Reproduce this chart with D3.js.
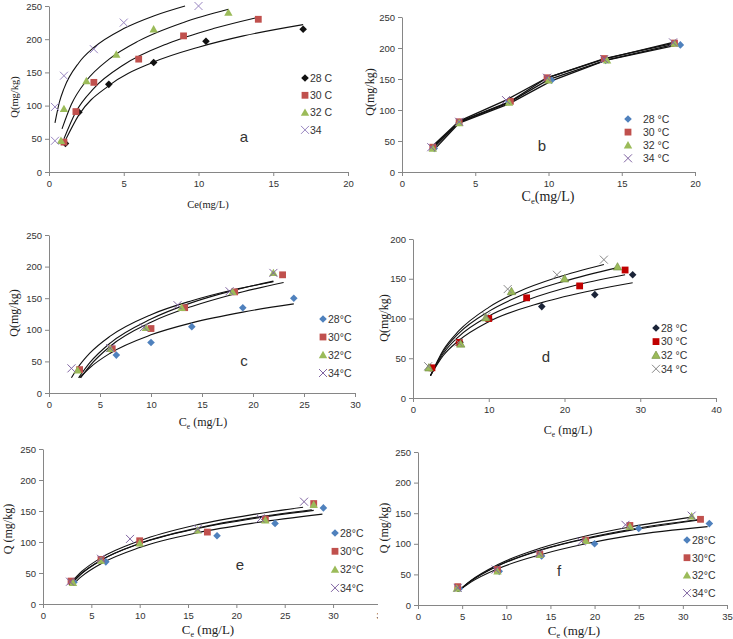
<!DOCTYPE html>
<html><head><meta charset="utf-8">
<script src="https://cdn.jsdelivr.net/npm/d3@7"></script>
<style>body{margin:0;background:#fff}</style></head>
<body>
<svg id="chart" width="733" height="639"></svg>
<script>
// ---------------- DATA ----------------
const tempKeys = ["28", "30", "32", "34"];

// Panel a
const legendA = ["28 C", "30 C", "32 C", "34"];
const ptsA28 = [[1.1,43],[2,90],[4,132],[7,165],[10.5,197],[17,215]];
const ptsA30 = [[1,45],[1.8,91],[3,135],[6,170],[9,205],[14,230]];
const ptsA32 = [[0.8,47],[1,95],[2.5,137],[4.5,177],[7,215],[12,240]];
const ptsA34 = [[0.4,47],[0.4,98],[1,145],[3,185],[5,225],[10,250]];
const fitA28 = [[1.1,48],[2,86],[4,130],[7,165.6],[10,188],[13,205],[17,222]];
const fitA30 = [[1,50],[1.8,90.7],[3,126],[5,161.5],[8,194],[11,216],[13.8,232]];
const fitA32 = [[0.87,65],[1.5,102],[2.5,137.5],[4,169.7],[6,197.5],[9,225.3],[12,245]];
const fitA34 = [[0.4,74],[0.7,105.5],[1,125.6],[2,164.6],[3,187.5],[5,216],[7,235],[9.1,250]];

// Panel b
const legendB = ["28 °C", "30 °C", "32 °C", "34 °C"];
const ptsB28 = [[2.2,38],[3.9,80],[7.3,113],[10.2,148],[13.9,180],[19,205]];
const ptsB30 = [[2.1,40],[3.9,81],[7.4,114],[9.9,152],[13.8,183],[18.6,208]];
const ptsB32 = [[2.1,38],[3.9,79],[7.3,112],[10,148],[14,180],[18.6,207]];
const ptsB34 = [[2,40],[3.9,81],[7.1,116],[9.9,152],[13.8,182],[18.5,209]];
const fitB28 = [[2.2,36],[3.9,79],[7.3,110],[10.2,147],[13.9,180],[18.6,204]];
const fitB30 = [[2.1,40],[3.9,81],[7.4,114],[9.9,152],[13.8,183],[18.6,208]];
const fitB32 = [[2.1,38],[3.9,80],[7.3,112],[10,149],[14,181],[18.6,206]];
const fitB34 = [[2,40],[3.9,82],[7.1,116],[9.9,152],[13.8,182],[18.5,209]];

// Panel c
const legendC = ["28°C", "30°C", "32°C", "34°C"];
const ptsC28 = [[6.6,60],[10,80],[14,105],[19,135],[24,150]];
const ptsC30 = [[3,37],[6.2,70],[10,102],[13.3,135],[18.2,160],[22.9,187]];
const ptsC32 = [[2.8,36],[6,70],[9.5,103],[13,135],[18,160],[22,190]];
const ptsC34 = [[2.2,39],[6,71],[9.3,104],[12.6,139],[17.7,161],[22,190]];
const fitC28 = [[3,24],[4,40],[6,63],[10,92],[14,111],[19,128],[24,141]];
const fitC30 = [[3.1,24],[4,43],[6,74],[10,112],[14,137],[18,156],[23,175]];
const fitC32 = [[2.9,24],[4,48],[6,79],[10,117],[14,143],[18,162],[22,177]];
const fitC34 = [[2.2,24],[3,44],[4,63],[6,90],[10,124],[14,146],[18,163],[22,176]];

// Panel d
const legendD = ["28 °C", "30 °C", "32 °C", "34 °C"];
const ptsD28 = [[2.3,38],[6.2,70],[10,100],[17,115],[24,130],[29,155]];
const ptsD30 = [[2.5,38],[6.1,70],[10,100],[15,126],[22,141],[28,161]];
const ptsD32 = [[2.1,38],[6.3,68],[9.6,101],[13,134],[20,150],[27,165]];
const ptsD34 = [[2,40],[6,70],[9.7,103],[12.5,137],[19,155],[25.2,174]];
const fitD28 = [[2.3,28],[4,53.5],[6,72],[10,96],[17,120],[24,136],[29,145]];
const fitD30 = [[2.3,28],[4,56],[6,77],[10,103],[15,123],[22,143],[28,155]];
const fitD32 = [[2.3,28],[4,58.5],[6,81],[10,109],[14,128],[20,147],[27,164]];
const fitD34 = [[2.3,28],[4,60.4],[6,84],[10,114],[14,134],[19,151.5],[25.2,168]];

// Panel e
const legendE = ["28°C", "30°C", "32°C", "34°C"];
const ptsE28 = [[3.2,35],[6.5,68],[10,99],[18,110],[24,130],[29,155]];
const ptsE30 = [[2.9,37],[6,72],[10,102],[17,116],[23,137],[28,162]];
const ptsE32 = [[3.1,34],[6,70],[10,98],[16,119],[23,135],[28,160]];
const ptsE34 = [[2.8,36],[6,73],[9,105],[16,121],[22.5,138],[27,165]];
const fitE28 = [[3,30],[4,44.6],[6,65],[10,91],[16,115],[22,131],[28.9,145]];
const fitE30 = [[2.8,31],[4,49.6],[6,70.7],[10,97.3],[16,121.8],[22,138.4],[28,151]];
const fitE32 = [[2.8,30],[4,49],[6,70.5],[10,97.7],[16,122.7],[22,139.7],[27.8,152]];
const fitE34 = [[2.7,31],[4,52.4],[6,74.5],[10,102],[16,128],[22,145],[26.9,156]];

// Panel f
const legendF = ["28°C", "30°C", "32°C", "34°C"];
const ptsF28 = [[4.7,27],[9.2,55],[14,80],[20,100],[25,125],[33,133]];
const ptsF30 = [[4.5,30],[9,58],[13.8,83],[19,106],[24,130],[32,140]];
const ptsF32 = [[4.4,27],[9,55],[13.8,82],[19,105],[24,128],[31,145]];
const ptsF34 = [[4.5,28],[8.8,58],[13.7,84],[18.5,104],[23.5,131],[31,146]];
const fitF28 = [[4.5,22],[6,37.4],[9,59],[14,82.6],[19,100],[24,113.3],[32.8,128]];
const fitF30 = [[4.5,22],[6,39.4],[9,63.9],[14,90.7],[19,109],[24,123.3],[32,140]];
const fitF32 = [[4.5,22],[6,39.2],[9,63.4],[14,89.9],[19,108],[24,122],[31.9,139]];
const fitF34 = [[4.5,22],[6,40.1],[9,65.7],[14,93.5],[19,112.8],[24,127.5],[31,143.6]];

const yTicks250 = [0, 50, 100, 150, 200, 250];
const yTicks200 = [0, 50, 100, 150, 200];
const xTicks20 = [0, 5, 10, 15, 20];
const xTicks30 = [0, 5, 10, 15, 20, 25, 30];
const xTicks35 = [0, 5, 10, 15, 20, 25, 30, 35];
const xTicks40 = [0, 10, 20, 30, 40];

// ---------------- STYLES ----------------
const excelColors = {"28": "#4F81BD", "30": "#C0504D", "32": "#9BBB59", "34": "#8064A2"};
const colorsA = {"28": "#111111", "30": "#C0504D", "32": "#9BBB59", "34": "#9A87C2"};
const colorsD = {"28": "#1B2438", "30": "#C00000", "32": "#9BBB59", "34": "#888888"};
const shapes = {"28": "diamond", "30": "square", "32": "triangle", "34": "cross"};

const svg = d3.select("#chart");
const defs = svg.append("defs");
defs.append("clipPath").attr("id", "clipE").append("rect")
  .attr("x", 0).attr("y", 420).attr("width", 378).attr("height", 219);

function drawMarker(g, shape, color, cx, cy, d3stroke) {
  if (shape === "diamond") {
    g.append("path").attr("d", `M${cx},${cy-3.8}L${cx+3.8},${cy}L${cx},${cy+3.8}L${cx-3.8},${cy}Z`)
      .attr("fill", color);
  } else if (shape === "square") {
    g.append("rect").attr("x", cx-3.4).attr("y", cy-3.4).attr("width", 6.8).attr("height", 6.8)
      .attr("fill", color);
  } else if (shape === "triangle") {
    g.append("path").attr("d", `M${cx},${cy-4.2}L${cx+4.2},${cy+3.2}L${cx-4.2},${cy+3.2}Z`)
      .attr("fill", color).attr("stroke", d3stroke || "none").attr("stroke-width", 0.6);
  } else {
    g.append("path").attr("d", `M${cx-4},${cy-4}L${cx+4},${cy+4}M${cx-4},${cy+4}L${cx+4},${cy-4}`)
      .attr("stroke", color).attr("stroke-width", 1).attr("fill", "none");
  }
}

function titleWithSub(g, x, y, size, main, sub, rest, rotate) {
  const t = g.append("text").attr("x", x).attr("y", y)
    .attr("text-anchor", "middle")
    .attr("font-family", "Liberation Serif, Times New Roman, serif")
    .attr("font-size", size).attr("fill", "#222");
  if (rotate) t.attr("transform", `rotate(-90,${x},${y})`);
  t.append("tspan").text(main);
  if (sub) t.append("tspan").attr("font-size", size * 0.62).attr("dy", size * 0.22).text(sub);
  t.append("tspan").attr("dy", sub ? -size * 0.22 : 0).text(rest);
}

function drawPanel(cfg) {
  const g = svg.append("g");
  if (cfg.clip) g.attr("clip-path", `url(#${cfg.clip})`);
  const x = d3.scaleLinear().domain(cfg.xd).range([cfg.x0, cfg.x1]);
  const y = d3.scaleLinear().domain(cfg.yd).range([cfg.y0, cfg.y1]);

  const xa = g.append("g").attr("transform", `translate(0,${cfg.y0})`)
    .call(d3.axisBottom(x).tickValues(cfg.xt).tickSize(4).tickSizeOuter(0).tickPadding(4));
  const ya = g.append("g").attr("transform", `translate(${cfg.x0},0)`)
    .call(d3.axisLeft(y).tickValues(cfg.yt).tickSize(4).tickSizeOuter(0).tickPadding(3));
  [xa, ya].forEach(a => {
    a.select(".domain").attr("stroke", "#868686");
    a.selectAll(".tick line").attr("stroke", "#868686");
    a.selectAll(".tick text").attr("fill", "#333").attr("font-size", 9.5)
      .attr("font-family", "Liberation Sans, Arial, sans-serif");
  });

  // fitted curves / lines
  const line = d3.line().x(d => x(d[0])).y(d => y(d[1]))
    .curve(cfg.linear ? d3.curveLinear : d3.curveMonotoneX);
  cfg.fits.forEach(f => {
    g.append("path").attr("d", line(f)).attr("fill", "none")
      .attr("stroke", "#111").attr("stroke-width", cfg.linear ? 1.3 : 1.1);
  });

  // points
  cfg.pts.forEach((p, i) => {
    const k = tempKeys[i];
    p.forEach(d => drawMarker(g, shapes[k], cfg.colors[k], x(d[0]), y(d[1]), cfg.triStroke));
  });

  // legend
  cfg.legend.forEach((lab, i) => {
    const k = tempKeys[i];
    const ly = cfg.ly + i * cfg.lstep;
    drawMarker(g, shapes[k], cfg.colors[k], cfg.lx, ly, cfg.triStroke);
    g.append("text").attr("x", cfg.lx + cfg.lgap).attr("y", ly + 3.8)
      .attr("font-family", "Liberation Sans, Arial, sans-serif").attr("font-size", 10.5)
      .attr("fill", "#333").text(lab);
  });

  // panel letter
  g.append("text").attr("x", cfg.letter[0]).attr("y", cfg.letter[1])
    .attr("text-anchor", "middle").attr("font-family", "Liberation Sans, Arial, sans-serif")
    .attr("font-size", 15).attr("fill", "#333").text(cfg.letter[2]);

  // axis titles
  titleWithSub(g, cfg.xt_pos[0], cfg.xt_pos[1], cfg.xt_pos[2], "C", cfg.xsub, cfg.xrest, false);
  titleWithSub(g, cfg.yt_pos[0], cfg.yt_pos[1], cfg.yt_pos[2], cfg.ytitle, null, "", true);
}

drawPanel({x0: 49, x1: 348, y0: 172, y1: 6, xd: [0, 20], yd: [0, 250], xt: xTicks20, yt: yTicks250,
  pts: [ptsA28, ptsA30, ptsA32, ptsA34], fits: [fitA28, fitA30, fitA32, fitA34], colors: colorsA,
  legend: legendA, lx: 305, ly: 78, lstep: 17.3, lgap: 5,
  letter: [244, 142, "a"], xsub: "", xrest: "e(mg/L)", xt_pos: [208, 208, 10.5],
  ytitle: "Q(mg/kg)", yt_pos: [18, 97, 10.5]});

drawPanel({x0: 402, x1: 695, y0: 172, y1: 17, xd: [0, 20], yd: [0, 250], xt: xTicks20, yt: yTicks250,
  pts: [ptsB28, ptsB30, ptsB32, ptsB34], fits: [fitB28, fitB30, fitB32, fitB34], colors: excelColors,
  linear: true, legend: legendB, lx: 628, ly: 119, lstep: 13.1, lgap: 15,
  letter: [542, 151, "b"], xsub: "e", xrest: "(mg/L)", xt_pos: [548, 201, 14],
  ytitle: "Q(mg/kg)", yt_pos: [374, 92, 12]});

drawPanel({x0: 49, x1: 355, y0: 393, y1: 235, xd: [0, 30], yd: [0, 250], xt: xTicks30, yt: yTicks250,
  pts: [ptsC28, ptsC30, ptsC32, ptsC34], fits: [fitC28, fitC30, fitC32, fitC34], colors: excelColors,
  legend: legendC, lx: 323, ly: 319, lstep: 18, lgap: 5,
  letter: [244, 366, "c"], xsub: "e", xrest: " (mg/L)", xt_pos: [203, 426, 12],
  ytitle: "Q(mg/kg)", yt_pos: [18, 313, 12]});

drawPanel({x0: 413, x1: 716, y0: 398, y1: 239, xd: [0, 40], yd: [0, 200], xt: xTicks40, yt: yTicks200,
  pts: [ptsD28, ptsD30, ptsD32, ptsD34], fits: [fitD28, fitD30, fitD32, fitD34], colors: colorsD,
  triStroke: "#6d8a3a", legend: legendD, lx: 656, ly: 328, lstep: 13.6, lgap: 5,
  letter: [546, 362, "d"], xsub: "e", xrest: " (mg/L)", xt_pos: [568, 434, 12],
  ytitle: "Q(mg/kg)", yt_pos: [388, 318, 12]});

drawPanel({x0: 43, x1: 381.4, y0: 604, y1: 449, xd: [0, 35], yd: [0, 250], xt: xTicks35, yt: yTicks250,
  pts: [ptsE28, ptsE30, ptsE32, ptsE34], fits: [fitE28, fitE30, fitE32, fitE34], colors: excelColors,
  clip: "clipE", legend: legendE, lx: 335, ly: 533, lstep: 18.3, lgap: 5,
  letter: [240, 570, "e"], xsub: "e", xrest: " (mg/L)", xt_pos: [208, 634, 13],
  ytitle: "Q (mg/kg)", yt_pos: [12, 529, 12]});

drawPanel({x0: 418, x1: 727, y0: 605, y1: 452, xd: [0, 35], yd: [0, 250], xt: xTicks35, yt: yTicks250,
  pts: [ptsF28, ptsF30, ptsF32, ptsF34], fits: [fitF28, fitF30, fitF32, fitF34], colors: excelColors,
  legend: legendF, lx: 687, ly: 540, lstep: 17.7, lgap: 5,
  letter: [559, 576, "f"], xsub: "e", xrest: " (mg/L)", xt_pos: [574, 635, 13],
  ytitle: "Q (mg/kg)", yt_pos: [388, 528, 12]});
</script>
</body></html>
